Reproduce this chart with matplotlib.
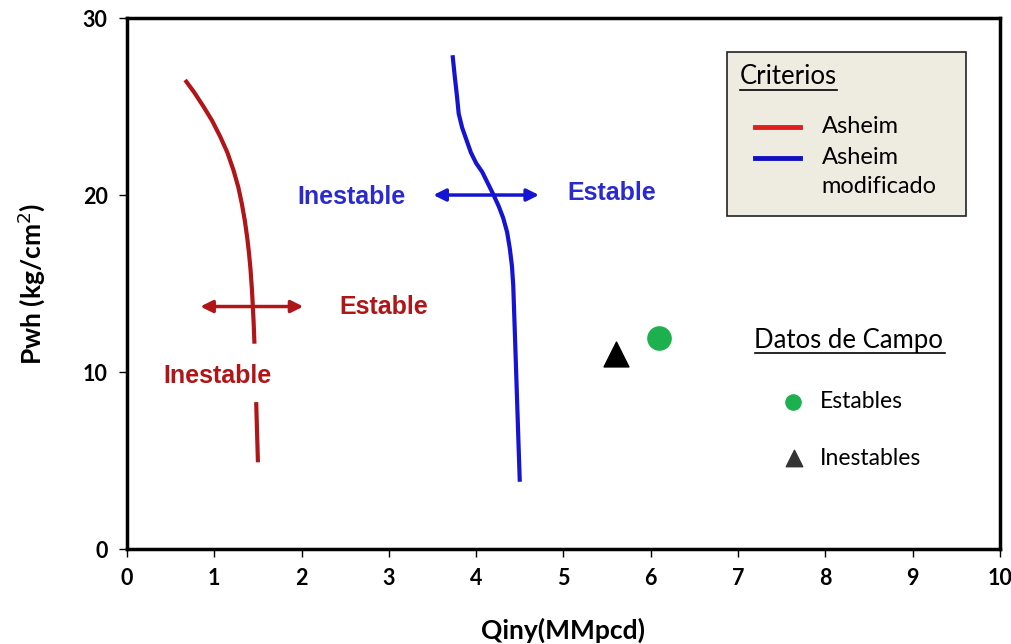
import numpy as np
import matplotlib
matplotlib.use("Agg")
import matplotlib.pyplot as plt
from matplotlib.patches import Rectangle
from matplotlib.lines import Line2D

# curves
asheim_x = [0.666, 0.77, 0.876, 0.975, 1.068, 1.15, 1.22, 1.275, 1.316, 1.35, 1.377, 1.398,
            1.415, 1.43, 1.442, 1.452, 1.46]
asheim_y = [26.5, 25.8, 25.0, 24.2, 23.3, 22.4, 21.4, 20.45, 19.5, 18.55, 17.6, 16.7,
            15.8, 14.75, 13.7, 12.65, 11.6]
asheim_low_x = [1.48, 1.50]
asheim_low_y = [8.3, 4.9]

mod_x = [3.73, 3.755, 3.78, 3.80, 3.84, 3.89, 3.94, 4.00, 4.07, 4.14, 4.20, 4.26,
         4.31, 4.355, 4.385, 4.41, 4.425, 4.445, 4.465, 4.485, 4.50]
mod_y = [27.9, 26.7, 25.6, 24.6, 23.8, 23.1, 22.4, 21.8, 21.3, 20.6, 20.0, 19.35,
         18.7, 17.9, 17.0, 16.0, 14.9, 12.0, 9.0, 6.0, 3.8]

# field data
estables_x = [6.10]
estables_y = [11.9]
inestables_x = [5.60]
inestables_y = [11.0]

RED = "#B01518"
BLUE = "#1414D2"
TXT_BLUE = "#2A2AD0"

fig = plt.figure(figsize=(10.12, 6.44), dpi=100)
ax = fig.add_axes([0.1255, 0.1475, 0.8625, 0.8245])

ax.plot(asheim_x, asheim_y, color=RED, lw=3, solid_capstyle="butt", solid_joinstyle="round")
ax.plot(asheim_low_x, asheim_low_y, color=RED, lw=3, solid_capstyle="butt")
ax.plot(mod_x, mod_y, color=BLUE, lw=3, solid_capstyle="butt", solid_joinstyle="round")

# double arrows
ax.annotate("", xy=(0.84, 13.7), xytext=(2.02, 13.7),
            arrowprops=dict(arrowstyle="<|-|>", color=RED, lw=2.5, mutation_scale=18,
                            shrinkA=0, shrinkB=0))
ax.annotate("", xy=(3.51, 20.0), xytext=(4.72, 20.0),
            arrowprops=dict(arrowstyle="<|-|>", color=BLUE, lw=2.5, mutation_scale=18,
                            shrinkA=0, shrinkB=0))

lbl = dict(family="Liberation Sans", fontweight="bold", fontsize=18, ha="center", va="center")
ax.text(2.94, 13.7, "Estable", color=RED, **lbl)
ax.text(1.04, 9.8, "Inestable", color=RED, **lbl)
ax.text(2.57, 19.9, "Inestable", color=TXT_BLUE, **lbl)
ax.text(5.55, 20.1, "Estable", color=TXT_BLUE, **lbl)

ax.scatter(estables_x, estables_y, s=280, color="#1DB04E", zorder=5)
ax.scatter(inestables_x, inestables_y, s=320, marker="^", color="black", zorder=5)

# legend box "Criterios"
tr = ax.transAxes
ax.add_patch(Rectangle((0.687, 0.627), 0.274, 0.309, transform=tr,
                       facecolor="#EEEBE0", edgecolor="#222222", lw=1.2, zorder=4))
ax.text(0.702, 0.890, "Criterios", transform=tr, family="Lato", fontsize=18.5,
        ha="left", va="center", zorder=6)
ax.add_line(Line2D([0.702, 0.813], [0.864, 0.864], transform=tr, color="black", lw=1.2, zorder=6))
ax.add_line(Line2D([0.719, 0.771], [0.795, 0.795], transform=tr, color="#E01E1E", lw=3.5, zorder=6))
ax.add_line(Line2D([0.719, 0.771], [0.737, 0.737], transform=tr, color="#1010C0", lw=3.5, zorder=6))
ax.text(0.796, 0.795, "Asheim", transform=tr, family="Lato", fontsize=17, ha="left", va="center", zorder=6)
ax.text(0.796, 0.737, "Asheim", transform=tr, family="Lato", fontsize=17, ha="left", va="center", zorder=6)
ax.text(0.796, 0.682, "modificado", transform=tr, family="Lato", fontsize=17, ha="left", va="center", zorder=6)

# field data key
ax.text(0.827, 0.393, "Datos de Campo", transform=tr, family="Lato", fontsize=18.5,
        ha="center", va="center")
ax.add_line(Line2D([0.719, 0.937], [0.370, 0.370], transform=tr, color="black", lw=1.2))
ax.scatter([0.763], [0.277], transform=tr, s=120, color="#1DB04E", clip_on=False)
ax.text(0.794, 0.277, "Estables", transform=tr, family="Lato", fontsize=16.5, ha="left", va="center")
ax.scatter([0.764], [0.171], transform=tr, s=140, marker="^", color="#333333", clip_on=False)
ax.text(0.794, 0.171, "Inestables", transform=tr, family="Lato", fontsize=16.5, ha="left", va="center")

ax.set_xlim(0, 10)
ax.set_ylim(0, 30)
ax.set_xticks(range(0, 11))
ax.set_yticks([0, 10, 20, 30])
for s in ax.spines.values():
    s.set_linewidth(2.5)
ax.tick_params(direction="out", length=6, width=1, pad=8)
for t in ax.get_xticklabels() + ax.get_yticklabels():
    t.set_family("Lato")
    t.set_fontweight("bold")
    t.set_fontsize(15.5)

ax.set_xlabel("Qiny(MMpcd)", family="Lato", fontweight="bold", fontsize=19, labelpad=20)
ax.set_ylabel("Pwh (kg/cm$^2$)", family="Lato", fontweight="bold", fontsize=19, labelpad=26)

fig.savefig("out.png", dpi=100)
